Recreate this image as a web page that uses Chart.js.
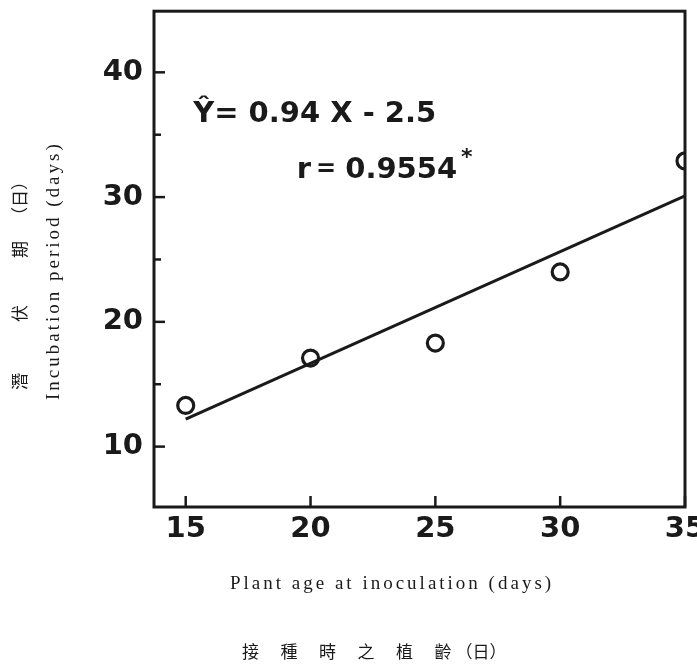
<!DOCTYPE html>
<html>
<head>
<meta charset="utf-8">
<script src="https://cdn.jsdelivr.net/npm/chart.js@4/dist/chart.umd.min.js"></script>
<style>
  html, body { margin: 0; padding: 0; background: #fff; }
  canvas { display: block; }
</style>
</head>
<body>
<canvas id="c" width="697" height="667"></canvas>
<script>
// ---- data ----
const plantAge = [15, 20, 25, 30, 35];
const incubationPeriod = [13.3, 17.1, 18.3, 24.0, 32.9];
const fitX = [15, 35];
const fitY = [12.2, 30.1];
const yLabeledTicks = [10, 20, 30, 40];
const xLabeledTicks = [15, 20, 25, 30, 35];
const equationText = 'Ŷ= 0.94 X - 2.5';
const corrParts = ['r', '=', '0.9554', '*'];
const xTitleEn = 'Plant age at inoculation (days)';
const xTitleZh = ['接', '種', '時', '之', '植', '齡', '（日）'];
const yTitleEn = 'Incubation period (days)';
const yTitleZh = ['潛', '伏', '期', '（日）'];

const INK = '#1a1a1a';
const BOLD = 'bold 29px "DejaVu Sans", sans-serif';
const SERIF = '19px "Liberation Serif", "Noto Sans CJK TC", serif';
const CJK = '17px "Noto Sans CJK TC", serif';

const decor = {
  id: 'decor',
  beforeDraw(chart) {
    const ctx = chart.ctx;
    ctx.save();
    ctx.fillStyle = '#fff';
    ctx.fillRect(0, 0, chart.width, chart.height);
    ctx.restore();
  },
  afterDraw(chart) {
    const ctx = chart.ctx;
    const a = chart.chartArea;
    const xs = chart.scales.x, ys = chart.scales.y;
    ctx.save();
    ctx.strokeStyle = INK;
    ctx.fillStyle = INK;
    // frame
    ctx.lineWidth = 3;
    ctx.strokeRect(a.left, a.top, a.right - a.left, a.bottom - a.top);
    // inward ticks
    ctx.lineWidth = 2.5;
    ys.ticks.forEach(t => {
      const y = ys.getPixelForValue(t.value);
      const len = yLabeledTicks.includes(t.value) ? 11 : 7;
      ctx.beginPath(); ctx.moveTo(a.left, y); ctx.lineTo(a.left + len, y); ctx.stroke();
    });
    xs.ticks.forEach(t => {
      const x = xs.getPixelForValue(t.value);
      ctx.beginPath(); ctx.moveTo(x, a.bottom); ctx.lineTo(x, a.bottom - 11); ctx.stroke();
    });
    // annotations
    ctx.font = BOLD;
    ctx.textAlign = 'left';
    ctx.textBaseline = 'alphabetic';
    ctx.fillText(equationText, xs.getPixelForValue(15.3), ys.getPixelForValue(36.0));
    let rx = xs.getPixelForValue(19.45);
    const ry = ys.getPixelForValue(31.5);
    ctx.fillText(corrParts[0], rx, ry);
    rx += ctx.measureText(corrParts[0]).width + 5;
    ctx.font = 'bold 24px "DejaVu Sans", sans-serif';
    ctx.fillText(corrParts[1], rx, ry - 2);
    rx += ctx.measureText(corrParts[1]).width + 9;
    ctx.font = BOLD;
    ctx.fillText(corrParts[2], rx, ry);
    rx += ctx.measureText(corrParts[2]).width;
    ctx.font = 'bold 22px "DejaVu Sans", sans-serif';
    ctx.fillText(corrParts[3], rx + 4, ry - 14);

    // x titles
    ctx.font = SERIF;
    ctx.textAlign = 'left';
    ctx.textBaseline = 'alphabetic';
    try { ctx.letterSpacing = '3px'; } catch (e) {}
    ctx.fillText(xTitleEn, a.left + 76, a.bottom + 82);
    try { ctx.letterSpacing = '0px'; } catch (e) {}
    ctx.font = CJK;
    ctx.textBaseline = 'middle';
    let px = a.left + 88;
    xTitleZh.forEach((s, i) => {
      ctx.fillText(s, px, a.bottom + 145);
      px += (i < xTitleZh.length - 2) ? 38.5 : 21;
    });

    // y titles (rotated)
    ctx.save();
    ctx.translate(a.left - 100, a.bottom - 107);
    ctx.rotate(-Math.PI / 2);
    ctx.font = SERIF;
    ctx.textBaseline = 'middle';
    try { ctx.letterSpacing = '3px'; } catch (e) {}
    ctx.fillText(yTitleEn, 0, 0);
    ctx.restore();

    ctx.save();
    ctx.translate(a.left - 134, a.bottom - 117);
    ctx.rotate(-Math.PI / 2);
    ctx.font = CJK;
    ctx.textBaseline = 'middle';
    const offs = [0, 68, 132, 166];
    yTitleZh.forEach((s, i) => ctx.fillText(s, offs[i], 0));
    ctx.restore();

    ctx.restore();
  }
};

new Chart(document.getElementById('c'), {
  type: 'scatter',
  data: {
    datasets: [
      {
        data: plantAge.map((x, i) => ({ x, y: incubationPeriod[i] })),
        showLine: false,
        pointStyle: 'circle',
        pointRadius: 8,
        pointBorderWidth: 3.2,
        pointBorderColor: INK,
        pointBackgroundColor: 'rgba(255,255,255,0)',
        order: 1
      },
      {
        data: fitX.map((x, i) => ({ x, y: fitY[i] })),
        showLine: true,
        borderColor: INK,
        borderWidth: 3,
        pointRadius: 0,
        fill: false,
        order: 2
      }
    ]
  },
  options: {
    responsive: false,
    animation: false,
    devicePixelRatio: 1,
    layout: { padding: { left: 0, right: 12, top: 6, bottom: 0 } },
    plugins: { legend: { display: false }, tooltip: { enabled: false } },
    scales: {
      x: {
        type: 'linear',
        min: 13.73,
        max: 35,
        grid: { display: false, drawTicks: false },
        border: { display: false },
        ticks: {
          stepSize: 5,
          includeBounds: false,
          padding: 5,
          color: INK,
          font: { family: '"DejaVu Sans", sans-serif', size: 29, weight: 'bold' },
          callback: v => xLabeledTicks.includes(v) ? String(v) : ''
        },
        afterFit: s => { s.height = 160; s.paddingRight = 0; s.paddingLeft = 0; }
      },
      y: {
        type: 'linear',
        min: 5.16,
        max: 44.9,
        grid: { display: false, drawTicks: false },
        border: { display: false },
        ticks: {
          stepSize: 5,
          includeBounds: false,
          padding: 11,
          color: INK,
          font: { family: '"DejaVu Sans", sans-serif', size: 29, weight: 'bold' },
          callback: v => yLabeledTicks.includes(v) ? String(v) : ''
        },
        afterFit: s => { s.width = 154; s.paddingTop = 0; s.paddingBottom = 0; }
      }
    }
  },
  plugins: [decor]
});
</script>
</body>
</html>
